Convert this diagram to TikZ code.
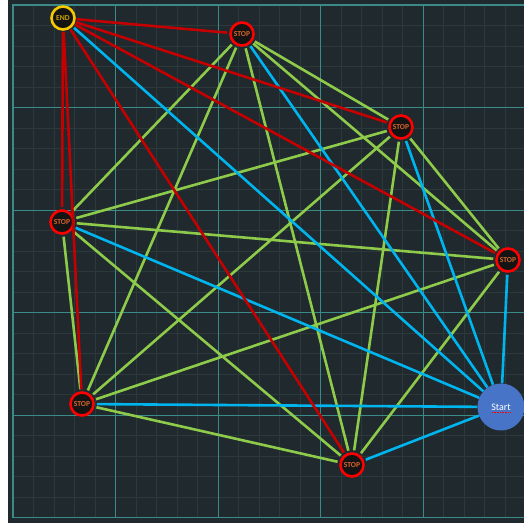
\documentclass[tikz,border=0pt]{standalone}
\usepackage{fontspec}
\setmainfont{Carlito}
\definecolor{board}{HTML}{1F292E}
\definecolor{gridminor}{HTML}{2C393B}
\definecolor{gridmajor}{HTML}{3A8A88}
\definecolor{stopred}{HTML}{FF0000}
\definecolor{stoptext}{HTML}{D8642C}
\definecolor{endyellow}{HTML}{F5C800}
\definecolor{endtext}{HTML}{C9A400}
\definecolor{nodefill}{HTML}{141414}
\definecolor{startblue}{HTML}{4874C8}
\definecolor{edgegreen}{HTML}{8FCB4A}
\definecolor{edgeblue}{HTML}{00B4EE}
\definecolor{edgered}{HTML}{C40000}
\tikzset{
  stopnode/.style={circle, draw=stopred, line width=2.6pt, fill=nodefill,
    minimum size=23pt, inner sep=0pt, text=stoptext,
    font=\fontsize{7.6}{7.6}\selectfont\bfseries},
  endnode/.style={stopnode, draw=endyellow, text=endtext},
  startnode/.style={circle, fill=startblue, minimum size=47pt, inner sep=0pt,
    text=white, font=\fontsize{10}{10}\selectfont},
  greenedge/.style={draw=edgegreen, line width=2.6pt, shorten <=2pt, shorten >=2pt},
  blueedge/.style={draw=edgeblue, line width=2.6pt, shorten <=2pt},
  rededge/.style={draw=edgered, line width=2.6pt, shorten <=1pt, shorten >=2pt}
}
\begin{document}
\begin{tikzpicture}[x=1pt, y=-1pt]
\useasboundingbox (0,0) rectangle (524,523);
\fill[white] (0,0) rectangle (524,523);
\fill[board] (8,0) rectangle (524,523);

% grid
\foreach \i in {1,...,25} {
  \draw[gridminor, line width=0.8pt] (13+20.5*\i,5) -- (13+20.5*\i,517.5);
  \draw[gridminor, line width=0.8pt] (13,5+20.5*\i) -- (524,5+20.5*\i);
}
\foreach \i in {1,...,4} {
  \draw[gridmajor, line width=1pt] (13+102.5*\i,5) -- (13+102.5*\i,517.5);
  \draw[gridmajor, line width=1pt] (13,5+102.5*\i) -- (524,5+102.5*\i);
}
\draw[gridmajor, line width=1.8pt] (524,5) -- (13,5) -- (13,517.5) -- (524,517.5);

% stops
\node[endnode] (end) at (63,18) {END};
\node[stopnode] (s1) at (242,34) {STOP};
\node[stopnode] (s2) at (401,127) {STOP};
\node[stopnode] (s3) at (62,222) {STOP};
\node[stopnode] (s4) at (508,260) {STOP};
\node[stopnode] (s5) at (82,404) {STOP};
\node[stopnode] (s6) at (352,465) {STOP};
\node[startnode] (start) at (501,407) {Start};
\draw[stopred, line width=0.6pt, densely dotted] ([xshift=-9pt, yshift=-5.5pt]start.center) -- ([xshift=9pt, yshift=-5.5pt]start.center);

% routes
\foreach \a/\b in {s1/s2, s1/s3, s1/s4, s1/s5, s1/s6, s2/s3, s2/s4, s2/s5,
  s2/s6, s3/s4, s3/s5, s3/s6, s4/s5, s4/s6, s5/s6}
  \draw[greenedge] (\a) -- (\b);
\foreach \a in {end, s1, s2, s3, s4, s5, s6}
  \draw[blueedge] (\a) -- (start);
\foreach \b in {s1, s2, s3, s4, s5, s6}
  \draw[rededge] (end) -- (\b);
\end{tikzpicture}
\end{document}
